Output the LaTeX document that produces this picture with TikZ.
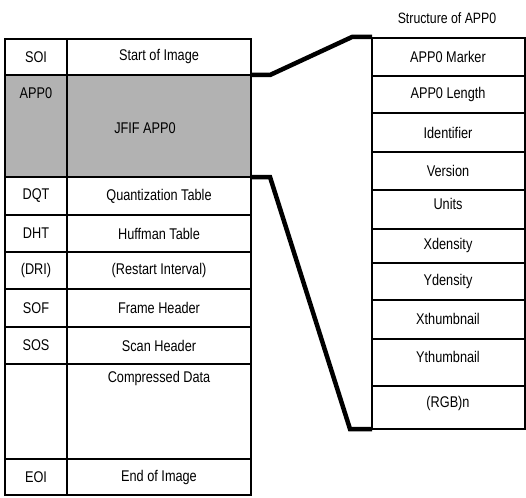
\documentclass[tikz,border=0pt]{standalone}
\usepackage{fontspec}
\setmainfont{Liberation Sans}[FakeStretch=0.82]
\begin{document}
\begin{tikzpicture}[x=1pt,y=-1pt,
  tbl/.style={line width=1.9pt, black},
  conn/.style={line width=4.5pt, black, line join=miter},
  txt/.style={inner sep=0pt, font=\fontsize{15.5}{17}\selectfont},
  hdr/.style={inner sep=0pt, font=\fontsize{15}{17}\selectfont}]
\useasboundingbox (0,0) rectangle (526,497);
% gray APP0 area
\fill[black!30] (5,75) rectangle (251,177);
% left table
\draw[tbl] (5,39) rectangle (251,495);
\draw[tbl] (67,39) -- (67,495);
\foreach \y in {75,177,215,252,289,327,364,459} \draw[tbl] (5,\y) -- (251,\y);
% right table
\draw[tbl] (372,38) rectangle (525,429);
\foreach \y in {76,113,152,190,229,263,300,339,386} \draw[tbl] (372,\y) -- (525,\y);
% left labels
\node[txt] (soi) at (36,57) {SOI};
\node[txt] (app) at (36,93) {APP0};
\node[txt] (dqt) at (36,196) {DQT};
\node[txt] (dht) at (36,233.5) {DHT};
\node[txt] (dri) at (36,270.5) {(DRI)};
\node[txt] (sof) at (36,308) {SOF};
\node[txt] (sos) at (36,345.5) {SOS};
\node[txt] (eoi) at (36,477) {EOI};
% left descriptions
\node[txt] (dsoi) at (159,57) {Start of Image};
\node[txt] (dapp) at (145,128) {JFIF APP0};
\node[txt] (ddqt) at (159,196) {Quantization Table};
\node[txt] (ddht) at (159,233.5) {Huffman Table};
\node[txt] (ddri) at (159,270.5) {(Restart Interval)};
\node[txt] (dsof) at (159,308) {Frame Header};
\node[txt] (dsos) at (159,345.5) {Scan Header};
\node[txt] (dcmp) at (159,378) {Compressed Data};
\node[txt] (deoi) at (159,477) {End of Image};
% right header and fields
\node[hdr] (head) at (447,18) {Structure of APP0};
\node[txt] (r1) at (448,57) {APP0 Marker};
\node[txt] (r2) at (448,94.5) {APP0 Length};
\node[txt] (r3) at (448,132.5) {Identifier};
\node[txt] (r4) at (448,171) {Version};
\node[txt] (r5) at (448,204) {Units};
\node[txt] (r6) at (448,245) {Xdensity};
\node[txt] (r7) at (448,281.5) {Ydensity};
\node[txt] (r8) at (448,319) {Xthumbnail};
\node[txt] (r9) at (448,357) {Ythumbnail};
\node[txt] (r10) at (448,403) {(RGB)n};
% connector anchor points
\coordinate (a1) at (251,75);
\coordinate (a2) at (372,37);
\coordinate (b1) at (251,177);
\coordinate (b2) at (372,429);
\draw[conn] (a1) -- (270,75) -- (352,37) -- (a2);
\draw[conn] (b1) -- (270,177) -- (350,429) -- (b2);
\end{tikzpicture}
\end{document}
